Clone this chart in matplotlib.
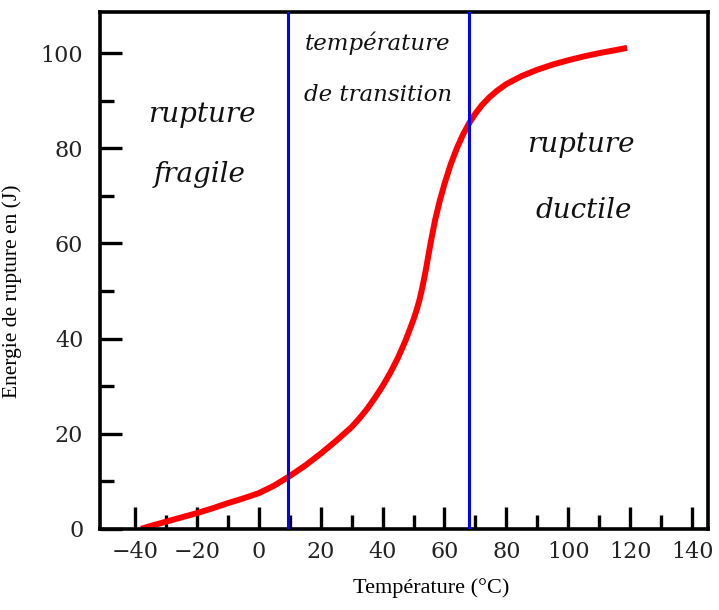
import numpy as np
import matplotlib.pyplot as plt

# values
temperature = [-38, -35, -30, -25, -20, -15, -10, -5, 0, 5, 10, 15, 20, 25, 30,
               32.5, 35, 37.5, 40, 42.5, 45, 47.5, 50, 51, 52, 53, 54, 55.5, 57, 58.5,
               60, 62, 64, 66, 68, 70, 72, 74.5, 77, 80, 85, 90, 95, 100, 105,
               110, 115, 119]
energy = [0, 0.6, 1.5, 2.4, 3.3, 4.3, 5.4, 6.4, 7.5, 9.1, 11.1, 13.3, 15.8, 18.5, 21.4,
          23.2, 25.2, 27.5, 30.0, 32.8, 36.0, 39.7, 44.0, 46.0, 48.3, 51.2, 54.5, 60.0,
          65.0, 69.0, 72.5, 76.6, 80.0, 82.9, 85.3, 87.3, 89.0, 90.7, 92.1, 93.5, 95.2,
          96.5, 97.6, 98.5, 99.3, 100, 100.6, 101.1]
transition_bounds = [9.5, 68]
x_major = [-40, -20, 0, 20, 40, 60, 80, 100, 120, 140]
x_minor = [-30, -10, 10, 30, 50, 70, 90, 110, 130]
y_major = [0, 20, 40, 60, 80, 100]
y_minor = [10, 30, 50, 70, 90]

SERIF = ["DejaVu Serif"]
TIMES = ["Liberation Serif"]

fig = plt.figure(figsize=(7.19, 6.10), dpi=100)
ax = fig.add_axes([0.139, 0.133, 0.846, 0.847])

ax.plot(temperature, energy, color="#ff0000", lw=4.3, solid_capstyle="butt",
        solid_joinstyle="round", zorder=2)
for xb in transition_bounds:
    ax.axvline(xb, color="#0000ff", lw=2.2, zorder=3)

ax.set_xlim(-51.3, 145.2)
ax.set_ylim(0, 108.6)

ax.set_xticks(x_major)
ax.set_xticks(x_minor, minor=True)
ax.set_yticks(y_major)
ax.set_yticks(y_minor, minor=True)
ax.tick_params(which="both", direction="in", width=2.4, color="black")
ax.tick_params(which="major", length=16)
ax.tick_params(which="minor", length=10)
ax.tick_params(axis="x", which="major", pad=9)
ax.tick_params(axis="y", which="major", pad=12)
for lab in ax.get_xticklabels() + ax.get_yticklabels():
    lab.set_fontfamily(SERIF)
    lab.set_fontsize(16)
    lab.set_color("#222222")

for sp in ax.spines.values():
    sp.set_linewidth(2.6)

ax.set_xlabel("Température (°C)", fontfamily=TIMES, fontsize=16)
ax.xaxis.set_label_coords(0.544, -0.095)
ax.set_ylabel("Energie de rupture en (J)", fontfamily=TIMES, fontsize=15.5)
ax.yaxis.set_label_coords(-0.128, 0.46)

it = dict(fontfamily=SERIF, style="italic", ha="center", va="center", color="#111111")
ax.text(-18.5, 87, "rupture", fontsize=20, **it)
ax.text(-19, 74.5, "fragile", fontsize=20, **it)
ax.text(38.5, 102, "température", fontsize=16.5, **it)
ax.text(38.5, 91.2, "de transition", fontsize=16.5, **it)
ax.text(104, 80.8, "rupture", fontsize=20, **it)
ax.text(105, 67, "ductile", fontsize=20, **it)

fig.savefig("out.png", dpi=100)
